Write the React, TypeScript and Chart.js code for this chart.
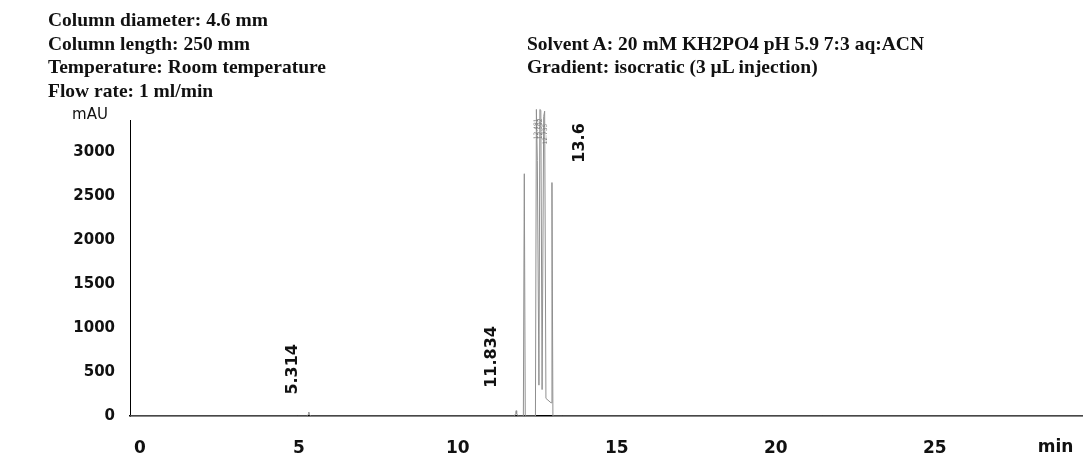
import React, { useEffect, useRef } from "react";
import { Chart, registerables } from "chart.js";

Chart.register(...registerables);

// Chromatogram trace (retention time in min, absorbance in mAU)
const retentionTimes = [
  -0.31, 4.95, 5.25, 5.3, 5.314, 5.33, 5.38, 11.78, 11.82, 11.834, 11.85, 11.9,
  12.06, 12.09, 12.12, 12.44, 12.47, 12.5, 12.55, 12.58, 12.61, 12.65, 12.7,
  12.73, 12.77, 12.93, 12.96, 12.99, 13.3, 29.66,
];
const absorbance = [
  0, 0, 0, 20, 45, 15, 0, 0, 30, 60, 25, 0,
  0, 2750, 0, 0, 3480, 2900, 350, 3480, 3470, 300, 3400,
  3460, 200, 150, 2650, 0, 0, 0,
];

const xTickValues = [0, 5, 10, 15, 20, 25];
const yTickValues = [0, 500, 1000, 1500, 2000, 2500, 3000];

const peakLabels = ["5.314", "11.834", "13.6"];
const peakLabelTimes = [4.82, 11.08, 13.85];
const peakLabelLevels = [530, 670, 3100];

const minorPeakLabels = ["12.481", "12.592", "12.735"];
const minorPeakTimes = [12.47, 12.6, 12.74];
const minorPeakLevels = [3260, 3260, 3200];

const headerLeft = [
  "Column diameter: 4.6 mm",
  "Column length: 250 mm",
  "Temperature: Room temperature",
  "Flow rate: 1 ml/min",
];
const headerRight = [
  "Solvent A: 20 mM KH2PO4 pH 5.9 7:3 aq:ACN",
  "Gradient: isocratic (3 \u00b5L injection)",
];

const yUnit = "mAU";
const xUnit = "min";

const SANS = "'DejaVu Sans', 'Liberation Sans', Arial, sans-serif";

const labelPlugin = {
  id: "peakLabels",
  afterDatasetsDraw(chart: any) {
    const { ctx, scales } = chart;
    const xs = scales.x;
    const ys = scales.y;
    ctx.save();
    ctx.fillStyle = "#111";
    ctx.textAlign = "center";
    ctx.textBaseline = "middle";
    ctx.font = `bold 16px ${SANS}`;
    peakLabels.forEach((txt, i) => {
      const px = xs.getPixelForValue(peakLabelTimes[i]);
      const py = ys.getPixelForValue(peakLabelLevels[i]);
      ctx.save();
      ctx.translate(px, py);
      ctx.rotate(-Math.PI / 2);
      ctx.fillText(txt, 0, 0);
      ctx.restore();
    });
    ctx.fillStyle = "#777";
    ctx.font = `6px ${SANS}`;
    minorPeakLabels.forEach((txt, i) => {
      const px = xs.getPixelForValue(minorPeakTimes[i]);
      const py = ys.getPixelForValue(minorPeakLevels[i]);
      ctx.save();
      ctx.translate(px, py);
      ctx.rotate(-Math.PI / 2);
      ctx.fillText(txt, 0, 0);
      ctx.restore();
    });
    // axis units
    ctx.fillStyle = "#111";
    ctx.font = `15px ${SANS}`;
    ctx.textAlign = "center";
    ctx.fillText(yUnit, xs.left - 40, ys.top - 5);
    ctx.font = `bold 17px ${SANS}`;
    ctx.fillText(xUnit, xs.getPixelForValue(28.8), ys.bottom + 32);
    ctx.restore();
  },
};

export default function App() {
  const canvasRef = useRef<HTMLCanvasElement | null>(null);

  useEffect(() => {
    const canvas = canvasRef.current;
    if (!canvas) return;
    const points = retentionTimes.map((t, i) => ({ x: t, y: absorbance[i] }));
    const chart = new Chart(canvas, {
      type: "line",
      data: {
        datasets: [
          {
            data: points,
            borderColor: "#8f8f8f",
            borderWidth: 1,
            pointRadius: 0,
            tension: 0,
            fill: false,
            clip: false as any,
          },
        ],
      },
      options: {
        responsive: false,
        animation: false,
        devicePixelRatio: 1,
        layout: { padding: { top: 120, left: 0, right: 0, bottom: 0 } },
        plugins: {
          legend: { display: false },
          tooltip: { enabled: false },
          title: { display: false },
        },
        scales: {
          x: {
            type: "linear",
            min: -0.31,
            max: 29.66,
            grid: { drawOnChartArea: false, drawTicks: false },
            border: { display: true, color: "#000", width: 1.5 },
            ticks: {
              color: "#111",
              padding: 22,
              autoSkip: false,
              maxRotation: 0,
              callback: (v: any) => String(v),
              font: { family: SANS, size: 17, weight: "bold" },
            },
            afterBuildTicks: (scale: any) => {
              scale.ticks = xTickValues.map((v) => ({ value: v }));
            },
            afterFit: (scale: any) => {
              scale.height = 46;
            },
          },
          y: {
            type: "linear",
            min: 0,
            max: 3360,
            grid: { drawOnChartArea: false, drawTicks: false },
            border: { display: true, color: "#000", width: 1 },
            ticks: {
              color: "#111",
              padding: 15,
              autoSkip: false,
              callback: (v: any) => String(v),
              font: { family: SANS, size: 15, weight: "bold" },
            },
            afterBuildTicks: (scale: any) => {
              scale.ticks = yTickValues.map((v) => ({ value: v }));
            },
            afterFit: (scale: any) => {
              scale.width = 130;
            },
          },
        },
      },
      plugins: [labelPlugin],
    });
    return () => chart.destroy();
  }, []);

  const headerStyle: React.CSSProperties = {
    position: "absolute",
    fontFamily: "'Liberation Serif', 'Times New Roman', serif",
    fontWeight: "bold",
    fontSize: "19.5px",
    lineHeight: "23.5px",
    color: "#111",
    whiteSpace: "nowrap",
    zIndex: 2,
  };

  return (
    <div
      style={{
        position: "fixed",
        left: 0,
        top: 0,
        width: 1083,
        height: 462,
        background: "#fff",
        overflow: "hidden",
      }}
    >
      <canvas
        ref={canvasRef}
        width={1083}
        height={462}
        style={{ position: "absolute", left: 0, top: 0, width: 1083, height: 462 }}
      />
      <div style={{ ...headerStyle, left: 48, top: 8 }}>
        {headerLeft.map((l) => (
          <div key={l}>{l}</div>
        ))}
      </div>
      <div style={{ ...headerStyle, left: 527, top: 31.5 }}>
        {headerRight.map((l) => (
          <div key={l}>{l}</div>
        ))}
      </div>
    </div>
  );
}
